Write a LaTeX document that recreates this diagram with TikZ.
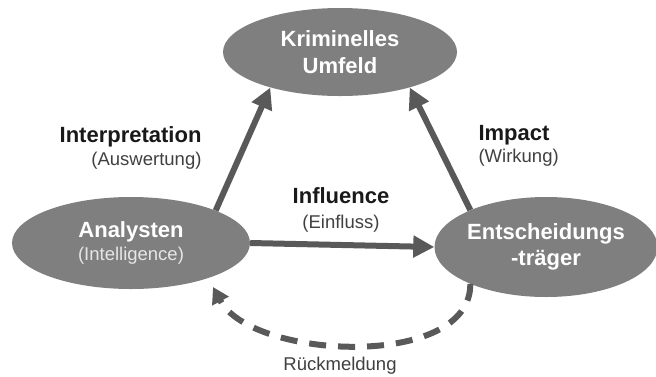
\documentclass[tikz,border=0pt]{standalone}
\usepackage{fontspec}
\setmainfont{Liberation Sans}
\usetikzlibrary{shapes.geometric,arrows.meta}
\definecolor{ellfill}{HTML}{7F7F7F}
\definecolor{arrcol}{HTML}{595959}
\definecolor{subtxt}{HTML}{404040}
\definecolor{subin}{HTML}{E6E6E6}
\tikzset{
  ell/.style={shape=ellipse, fill=ellfill, draw=none, inner sep=0pt, text=white, align=center,
    font=\fontsize{22}{26}\selectfont\bfseries},
  subtext/.style={font=\fontsize{18.5}{22}\selectfont, text=subtxt},
  headtext/.style={font=\fontsize{22}{27}\selectfont\bfseries, text=black!90},
  flow/.style={draw=arrcol, line width=6pt, -{Triangle[length=21pt,width=21pt]}},
  fback/.style={draw=arrcol, line width=6pt, dash pattern=on 17pt off 12pt,
    -{Triangle[length=16pt,width=18pt]}}
}
\begin{document}
\begin{tikzpicture}[x=1pt,y=-1pt]
\useasboundingbox (0,0) rectangle (656,376);
\node[ell, minimum width=234pt, minimum height=88pt] (kr) at (340,52)
  {Kriminelles\\[1pt]Umfeld};
\node[ell, minimum width=238pt, minimum height=92pt] (an) at (131,243)
  {Analysten\\[-3pt]{\fontsize{18.5}{22}\selectfont\mdseries\color{subin}(Intelligence)}};
\node[ell, minimum width=220pt, minimum height=100pt] (en) at (546,247)
  {Entscheidungs\\[0pt]-träger};
\coordinate (fbend) at (213,287);

\draw[flow] (an.21) -- (kr.207);
\draw[flow] (en.154) -- (kr.333);
\draw[flow] (an.east) -- (en.west);
\draw[fback] (en.206) .. controls (471,370) and (252,360) .. (fbend);

\node[headtext, anchor=base east] (interp) at (205,142) {Interpretation};
\node[subtext, anchor=base east] (ausw) at (205,165) {(Auswertung)};
\node[headtext, anchor=base west] (imp) at (475,140) {Impact};
\node[subtext, anchor=base west] (wirk) at (475,162) {(Wirkung)};
\node[headtext, anchor=base] (infl) at (341,203) {Influence};
\node[subtext, anchor=base] (einf) at (341,228) {(Einfluss)};
\node[subtext, anchor=base] (rueck) at (340,370) {Rückmeldung};
\end{tikzpicture}
\end{document}
